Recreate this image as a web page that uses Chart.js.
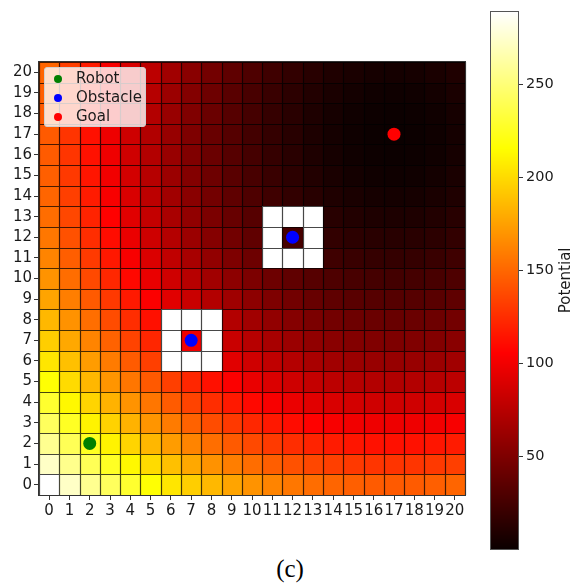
<!DOCTYPE html>
<html>
<head>
<meta charset="utf-8">
<script src="https://cdn.jsdelivr.net/npm/chart.js@4.4.1/dist/chart.umd.min.js"></script>
<style>
  html, body { margin: 0; padding: 0; background: #fff; }
  body { width: 572px; height: 585px; position: relative; overflow: hidden; font-family: "DejaVu Sans", sans-serif; }
  #mainChart { position: absolute; left: 0; top: 0; }
  #cbarChart { position: absolute; left: 470px; top: 0; }
  #legend {
    position: absolute; left: 44px; top: 67px; width: 100px; height: 57px;
    background: rgba(255, 255, 255, 0.8); border: 1px solid #d0d0d0; border-radius: 3px;
    padding-top: 1px; box-sizing: content-box;
  }
  .item { position: relative; height: 19px; line-height: 19px; font-size: 15px; color: #1a1a1a; }
  .item .dot { position: absolute; left: 9px; top: 6px; width: 8px; height: 8px; border-radius: 50%; }
  .item span { position: absolute; left: 31px; top: 0; white-space: nowrap; }
  #caption { position: absolute; left: 240px; top: 555px; width: 100px; text-align: center;
    font-family: "Liberation Serif", serif; font-size: 25px; color: #000; }
</style>
</head>
<body>
<canvas id="mainChart" width="480" height="530"></canvas>
<canvas id="cbarChart" width="102" height="585"></canvas>
<div id="legend"></div>
<div id="caption">(c)</div>
<script>
// grid axes (cell centres)
const xTicks = [0, 1, 2, 3, 4, 5, 6, 7, 8, 9, 10, 11, 12, 13, 14, 15, 16, 17, 18, 19, 20];
const yTicks = [0, 1, 2, 3, 4, 5, 6, 7, 8, 9, 10, 11, 12, 13, 14, 15, 16, 17, 18, 19, 20];

// potential per cell, one row per y (row 0 = bottom); null = blank (white) cell
const potentialRows = [
  [289, 272.5, 257, 242.5, 229, 216.5, 205, 194.5, 185, 176.5, 169, 162.5, 157, 152.5, 149, 146.5, 145, 144.5, 145, 146.5, 149],
  [272.5, 256, 240.5, 226, 212.5, 200, 188.5, 178, 168.5, 160, 152.5, 146, 140.5, 136, 132.5, 130, 128.5, 128, 128.5, 130, 132.5],
  [257, 240.5, 225, 210.5, 197, 184.5, 173, 162.5, 153, 144.5, 137, 130.5, 125, 120.5, 117, 114.5, 113, 112.5, 113, 114.5, 117],
  [242.5, 226, 210.5, 196, 182.5, 170, 158.5, 148, 138.5, 130, 122.5, 116, 110.5, 106, 102.5, 100, 98.5, 98, 98.5, 100, 102.5],
  [229, 212.5, 197, 182.5, 169, 156.5, 145, 134.5, 125, 116.5, 109, 102.5, 97, 92.5, 89, 86.5, 85, 84.5, 85, 86.5, 89],
  [216.5, 200, 184.5, 170, 156.5, 144, 132.5, 122, 112.5, 104, 96.5, 90, 84.5, 80, 76.5, 74, 72.5, 72, 72.5, 74, 76.5],
  [205, 188.5, 173, 158.5, 145, 132.5, null, null, null, 92.5, 85, 78.5, 73, 68.5, 65, 62.5, 61, 60.5, 61, 62.5, 65],
  [194.5, 178, 162.5, 148, 134.5, 122, null, 100, null, 82, 74.5, 68, 62.5, 58, 54.5, 52, 50.5, 50, 50.5, 52, 54.5],
  [185, 168.5, 153, 138.5, 125, 112.5, null, null, null, 72.5, 65, 58.5, 53, 48.5, 45, 42.5, 41, 40.5, 41, 42.5, 45],
  [176.5, 160, 144.5, 130, 116.5, 104, 92.5, 82, 72.5, 64, 56.5, 50, 44.5, 40, 36.5, 34, 32.5, 32, 32.5, 34, 36.5],
  [169, 152.5, 137, 122.5, 109, 96.5, 85, 74.5, 65, 56.5, 49, 42.5, 37, 32.5, 29, 26.5, 25, 24.5, 25, 26.5, 29],
  [162.5, 146, 130.5, 116, 102.5, 90, 78.5, 68, 58.5, 50, 42.5, null, null, null, 22.5, 20, 18.5, 18, 18.5, 20, 22.5],
  [157, 140.5, 125, 110.5, 97, 84.5, 73, 62.5, 53, 44.5, 37, null, 25, null, 17, 14.5, 13, 12.5, 13, 14.5, 17],
  [152.5, 136, 120.5, 106, 92.5, 80, 68.5, 58, 48.5, 40, 32.5, null, null, null, 12.5, 10, 8.5, 8, 8.5, 10, 12.5],
  [149, 132.5, 117, 102.5, 89, 76.5, 65, 54.5, 45, 36.5, 29, 22.5, 17, 12.5, 9, 6.5, 5, 4.5, 5, 6.5, 9],
  [146.5, 130, 114.5, 100, 86.5, 74, 62.5, 52, 42.5, 34, 26.5, 20, 14.5, 10, 6.5, 4, 2.5, 2, 2.5, 4, 6.5],
  [145, 128.5, 113, 98.5, 85, 72.5, 61, 50.5, 41, 32.5, 25, 18.5, 13, 8.5, 5, 2.5, 1, 0.5, 1, 2.5, 5],
  [144.5, 128, 112.5, 98, 84.5, 72, 60.5, 50, 40.5, 32, 24.5, 18, 12.5, 8, 4.5, 2, 0.5, 0, 0.5, 2, 4.5],
  [145, 128.5, 113, 98.5, 85, 72.5, 61, 50.5, 41, 32.5, 25, 18.5, 13, 8.5, 5, 2.5, 1, 0.5, 1, 2.5, 5],
  [146.5, 130, 114.5, 100, 86.5, 74, 62.5, 52, 42.5, 34, 26.5, 20, 14.5, 10, 6.5, 4, 2.5, 2, 2.5, 4, 6.5],
  [149, 132.5, 117, 102.5, 89, 76.5, 65, 54.5, 45, 36.5, 29, 22.5, 17, 12.5, 9, 6.5, 5, 4.5, 5, 6.5, 9]
];

const robotPos = [{ x: 2, y: 2 }];
const obstaclePos = [{ x: 7, y: 7 }, { x: 12, y: 12 }];
const goalPos = [{ x: 17, y: 17 }];

const cbarTicks = [50, 100, 150, 200, 250];
const potentialMin = 0;
const potentialMax = 289;

const FONT = { family: 'DejaVu Sans', size: 15 };

// matplotlib 'hot' colormap
function hotColor(v) {
  const t = Math.min(1, Math.max(0, (v - potentialMin) / (potentialMax - potentialMin)));
  const r = t < 0.365079 ? 0.0416 + (1 - 0.0416) * t / 0.365079 : 1;
  const g = t < 0.365079 ? 0 : Math.min(1, (t - 0.365079) / (0.746032 - 0.365079));
  const b = t < 0.746032 ? 0 : (t - 0.746032) / (1 - 0.746032);
  return `rgb(${Math.round(r * 255)},${Math.round(g * 255)},${Math.round(b * 255)})`;
}

const heatPlugin = {
  id: 'heatGrid',
  beforeDatasetsDraw(chart) {
    const { ctx, scales: { x, y } } = chart;
    ctx.save();
    potentialRows.forEach((row, j) => {
      row.forEach((v, i) => {
        const l = Math.round(x.getPixelForValue(xTicks[i] - 0.5));
        const r = Math.round(x.getPixelForValue(xTicks[i] + 0.5));
        const t = Math.round(y.getPixelForValue(yTicks[j] + 0.5));
        const b = Math.round(y.getPixelForValue(yTicks[j] - 0.5));
        ctx.fillStyle = v === null ? '#ffffff' : hotColor(v);
        ctx.fillRect(l, t, r - l, b - t);
      });
    });
    // cell edges
    ctx.strokeStyle = 'rgba(0,0,0,0.72)';
    ctx.lineWidth = 1.2;
    const x0 = x.getPixelForValue(xTicks[0] - 0.5), x1 = x.getPixelForValue(xTicks[xTicks.length - 1] + 0.5);
    const y0 = y.getPixelForValue(yTicks[0] - 0.5), y1 = y.getPixelForValue(yTicks[yTicks.length - 1] + 0.5);
    ctx.beginPath();
    for (let k = 0; k <= xTicks.length; k++) {
      const px = Math.round(x.getPixelForValue(k - 0.5)) + 0.5;
      ctx.moveTo(px, y0); ctx.lineTo(px, y1);
    }
    for (let k = 0; k <= yTicks.length; k++) {
      const py = Math.round(y.getPixelForValue(k - 0.5)) + 0.5;
      ctx.moveTo(x0, py); ctx.lineTo(x1, py);
    }
    ctx.stroke();
    ctx.restore();
  },
  afterDraw(chart) {
    const { ctx, chartArea: a } = chart;
    ctx.save();
    ctx.strokeStyle = '#333';
    ctx.lineWidth = 1;
    ctx.strokeRect(Math.round(a.left) - 0.5, Math.round(a.top) - 0.5, Math.round(a.right - a.left) + 1, Math.round(a.bottom - a.top) + 1);
    ctx.restore();
  }
};

const axisStyle = {
  type: 'linear',
  min: -0.5,
  max: 20.5,
  ticks: { color: '#1a1a1a', font: FONT, autoSkip: false, maxRotation: 0, padding: 2 },
  grid: { drawOnChartArea: false, drawTicks: true, tickLength: 5, color: '#333' },
  border: { display: true, color: '#333' }
};

const mainChart = new Chart(document.getElementById('mainChart').getContext('2d'), {
  type: 'scatter',
  data: {
    datasets: [
      { label: 'Robot', data: robotPos, backgroundColor: '#008000', pointRadius: 6.5, borderWidth: 0 },
      { label: 'Obstacle', data: obstaclePos, backgroundColor: '#0000ff', pointRadius: 6.5, borderWidth: 0 },
      { label: 'Goal', data: goalPos, backgroundColor: '#ff0000', pointRadius: 6.5, borderWidth: 0 }
    ]
  },
  options: {
    responsive: false,
    animation: false,
    layout: { padding: { top: 62, right: 15, left: 0, bottom: 0 } },
    scales: {
      x: Object.assign({}, axisStyle, {
        afterBuildTicks: s => { s.ticks = xTicks.map(v => ({ value: v })); },
        afterFit: s => { s.height = 35; }
      }),
      y: Object.assign({}, axisStyle, {
        afterBuildTicks: s => { s.ticks = yTicks.map(v => ({ value: v })); },
        afterFit: s => { s.width = 39; }
      })
    },
    plugins: { legend: { display: false }, tooltip: { enabled: false } }
  },
  plugins: [heatPlugin]
});

// legend built from the datasets
const legendEl = document.getElementById('legend');
mainChart.data.datasets.forEach(ds => {
  const item = document.createElement('div');
  item.className = 'item';
  item.innerHTML = `<div class="dot" style="background:${ds.backgroundColor}"></div><span>${ds.label}</span>`;
  legendEl.appendChild(item);
});

// colorbar
const cbarPlugin = {
  id: 'cbarFill',
  beforeDatasetsDraw(chart) {
    const { ctx, chartArea: a, scales: { y } } = chart;
    ctx.save();
    for (let py = Math.floor(a.top); py < Math.ceil(a.bottom); py++) {
      ctx.fillStyle = hotColor(y.getValueForPixel(py + 0.5));
      ctx.fillRect(a.left, py, a.right - a.left, 1);
    }
    ctx.strokeStyle = '#555';
    ctx.lineWidth = 1;
    ctx.strokeRect(Math.round(a.left) - 0.5, Math.round(a.top) - 0.5, Math.round(a.right - a.left) + 1, Math.round(a.bottom - a.top) + 1);
    // axis label
    ctx.translate(96, (a.top + a.bottom) / 2);
    ctx.rotate(-Math.PI / 2);
    ctx.fillStyle = '#1a1a1a';
    ctx.font = '15px "DejaVu Sans"';
    ctx.textAlign = 'center';
    ctx.textBaseline = 'middle';
    ctx.fillText('Potential', 0, 0);
    ctx.restore();
  }
};

new Chart(document.getElementById('cbarChart').getContext('2d'), {
  type: 'scatter',
  data: { datasets: [] },
  options: {
    responsive: false,
    animation: false,
    layout: { padding: { top: 9, right: 0, left: 21, bottom: 36 } },
    scales: {
      x: { display: false, min: 0, max: 1 },
      y: {
        position: 'right',
        min: potentialMin,
        max: potentialMax,
        afterBuildTicks: s => { s.ticks = cbarTicks.map(v => ({ value: v })); },
        afterFit: s => { s.width = 54; },
        ticks: { color: '#1a1a1a', font: { family: 'DejaVu Sans', size: 14.5 }, padding: 3 },
        grid: { drawOnChartArea: false, drawTicks: true, tickLength: 5, color: '#333' },
        border: { display: false }
      }
    },
    plugins: { legend: { display: false }, tooltip: { enabled: false } }
  },
  plugins: [cbarPlugin]
});
</script>
</body>
</html>
